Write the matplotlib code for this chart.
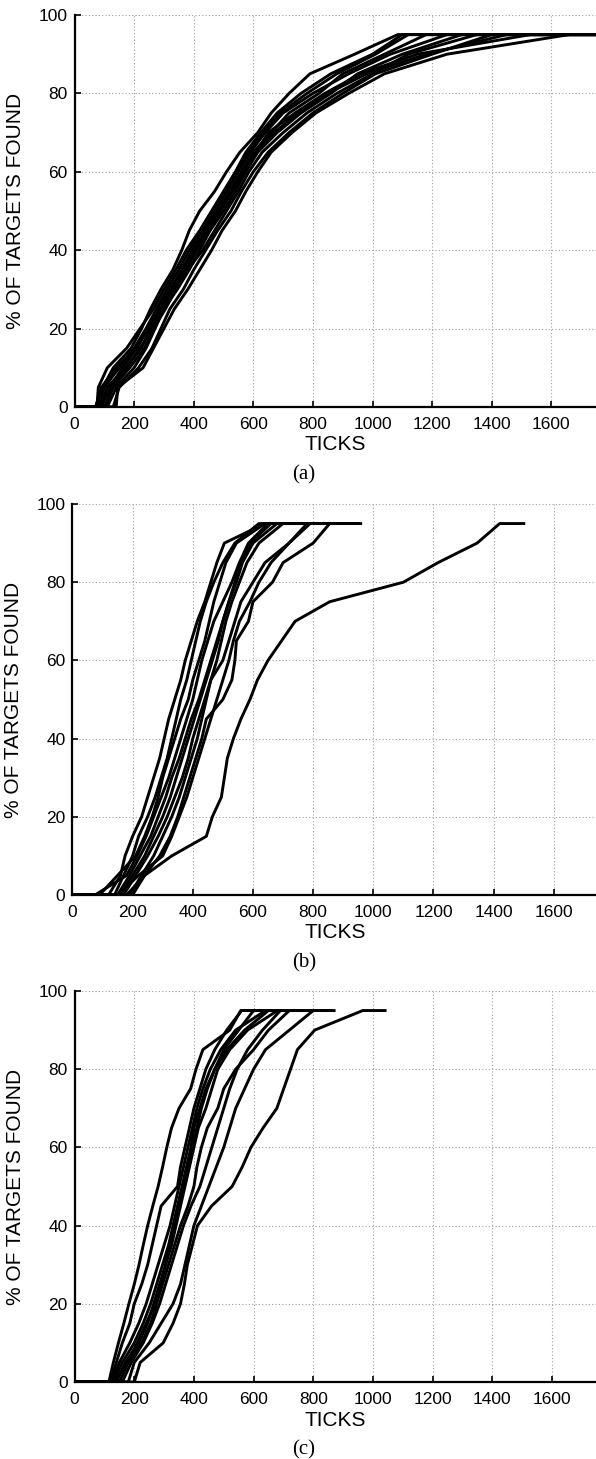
import matplotlib
matplotlib.use("Agg")
import matplotlib.pyplot as plt

# percent levels at which each run finds the next batch of targets
levels = [5, 10, 15, 20, 25, 30, 35, 40, 45, 50, 55, 60, 65, 70, 75, 80, 85, 90, 95]

# per run: tick where it leaves 0, ticks at levels 5..95, tick where the run ends
runs_a = [
    [70, 95, 130, 190, 225, 255, 290, 330, 360, 385, 420, 470, 510, 555, 615, 660, 720, 790, 940, 1085, 1750],
    [75, 80, 110, 175, 220, 265, 300, 340, 375, 420, 460, 500, 540, 575, 625, 680, 760, 860, 1000, 1100, 1750],
    [90, 120, 160, 210, 245, 280, 320, 360, 395, 440, 480, 520, 560, 600, 660, 720, 820, 900, 1040, 1180, 1750],
    [110, 140, 200, 240, 270, 300, 345, 385, 420, 455, 500, 540, 575, 615, 680, 760, 860, 950, 1100, 1300, 1750],
    [130, 150, 215, 260, 290, 320, 365, 400, 440, 480, 525, 560, 600, 650, 720, 800, 900, 1010, 1200, 1400, 1750],
    [85, 110, 170, 225, 255, 290, 330, 375, 410, 450, 490, 530, 570, 610, 650, 740, 840, 960, 1150, 1530, 1750],
    [100, 130, 185, 235, 265, 305, 340, 380, 430, 470, 510, 550, 585, 630, 700, 780, 880, 1000, 1120, 1350, 1750],
    [80, 100, 150, 200, 240, 275, 310, 350, 385, 430, 470, 510, 550, 590, 640, 700, 800, 920, 1060, 1250, 1750],
    [140, 145, 230, 265, 300, 335, 380, 420, 460, 495, 540, 575, 615, 660, 730, 810, 920, 1040, 1250, 1660, 1750],
    [105, 125, 175, 220, 260, 295, 335, 365, 400, 445, 485, 525, 565, 605, 670, 750, 850, 980, 1180, 1450, 1750],
    [72, 90, 140, 205, 250, 285, 325, 370, 405, 440, 475, 505, 545, 585, 635, 690, 780, 880, 1010, 1120, 1750],
]

runs_b = [
    [120, 160, 175, 200, 230, 250, 270, 290, 305, 320, 340, 360, 375, 395, 415, 440, 460, 480, 505, 640, 790],
    [140, 170, 200, 220, 250, 275, 295, 315, 330, 345, 360, 380, 395, 410, 425, 445, 470, 500, 540, 620, 700],
    [75, 180, 215, 245, 270, 295, 320, 340, 360, 380, 400, 415, 430, 450, 470, 500, 530, 555, 585, 650, 760],
    [150, 190, 225, 260, 285, 310, 330, 355, 375, 395, 420, 440, 460, 480, 500, 520, 540, 560, 590, 660, 720],
    [160, 200, 240, 270, 300, 325, 345, 365, 385, 405, 425, 445, 465, 485, 500, 520, 545, 565, 600, 680, 780],
    [170, 210, 250, 285, 315, 340, 365, 385, 400, 420, 440, 460, 480, 495, 510, 530, 555, 580, 620, 700, 760],
    [190, 230, 270, 300, 330, 355, 375, 395, 415, 430, 445, 460, 500, 520, 540, 560, 600, 640, 720, 780, 950],
    [200, 240, 290, 325, 350, 370, 390, 410, 430, 445, 500, 530, 540, 545, 585, 600, 665, 700, 800, 855, 958],
    [150, 220, 300, 330, 355, 380, 400, 420, 440, 460, 480, 500, 520, 535, 555, 590, 620, 660, 720, 790, 880],
    [180, 240, 330, 445, 465, 495, 505, 515, 535, 560, 590, 615, 650, 695, 740, 855, 1100, 1215, 1345, 1420, 1500],
    [90, 150, 210, 240, 265, 285, 300, 320, 340, 360, 385, 400, 420, 440, 455, 470, 490, 510, 545, 640, 740],
]

runs_c = [
    [115, 130, 147, 165, 182, 200, 216, 230, 245, 262, 280, 295, 309, 325, 350, 389, 407, 430, 520, 557, 620],
    [120, 140, 160, 185, 200, 225, 245, 260, 275, 290, 345, 355, 370, 385, 400, 420, 440, 470, 510, 560, 700],
    [125, 150, 185, 215, 240, 260, 280, 300, 320, 335, 350, 365, 380, 395, 410, 430, 455, 490, 540, 640, 700],
    [130, 160, 200, 230, 255, 275, 295, 315, 330, 345, 360, 375, 390, 400, 420, 440, 470, 510, 570, 650, 720],
    [140, 170, 215, 245, 265, 285, 305, 325, 340, 355, 370, 385, 400, 415, 440, 460, 480, 520, 580, 680, 860],
    [150, 180, 225, 255, 275, 295, 315, 335, 355, 380, 400, 410, 425, 445, 480, 500, 540, 600, 650, 720, 820],
    [160, 190, 230, 260, 285, 305, 325, 345, 365, 390, 420, 440, 460, 480, 500, 520, 545, 580, 630, 690, 760],
    [200, 220, 297, 330, 355, 368, 378, 395, 412, 459, 528, 562, 591, 632, 678, 701, 724, 747, 805, 966, 1041],
    [180, 200, 250, 290, 330, 355, 370, 385, 400, 425, 450, 475, 500, 520, 540, 570, 600, 640, 720, 800, 870],
    [135, 175, 210, 240, 270, 290, 305, 320, 335, 350, 365, 380, 395, 410, 425, 445, 470, 500, 550, 600, 680],
]

panels = [runs_a, runs_b, runs_c]
captions = ["(a)", "(b)", "(c)"]
xticks = [0, 200, 400, 600, 800, 1000, 1200, 1400, 1600]
yticks = [0, 20, 40, 60, 80, 100]

W, H = 596, 1459
# axes rectangles in pixels: left, top, width, height
rects = [(74.5, 15, 521.5, 392), (72.4, 504, 526.6, 391), (74.6, 991, 522, 391)]

fig = plt.figure(figsize=(W / 100, H / 100), dpi=100)
sans = "Liberation Sans"

for runs, cap, (l, t, w, h) in zip(panels, captions, rects):
    ax = fig.add_axes([l / W, 1 - (t + h) / H, w / W, h / H])
    for r in runs:
        xs = [0] + r
        ys = [0, 0] + levels + [95]
        ax.plot(xs, ys, color="black", lw=2.1)
    ax.set_xlim(0, 1750)
    ax.set_ylim(0, 100)
    ax.set_xticks(xticks)
    ax.set_yticks(yticks)
    ax.grid(True, color="#a0a0a0", lw=0.8, linestyle=(0, (1, 2)))
    ax.set_axisbelow(True)
    for s in ["top", "right"]:
        ax.spines[s].set_visible(False)
    for s in ["left", "bottom"]:
        ax.spines[s].set_linewidth(1.6)
    ax.tick_params(direction="in", length=4, width=1.2, labelsize=12.5)
    ax.tick_params(axis="x", pad=7)
    ax.tick_params(axis="y", pad=5)
    for lab in ax.get_xticklabels() + ax.get_yticklabels():
        lab.set_fontfamily(sans)
    ax.set_ylabel("% OF TARGETS FOUND", fontsize=15, family=sans, labelpad=10)
    ax.text(0.5, -38 / h, "TICKS", transform=ax.transAxes, ha="center",
            va="center", fontsize=15, family=sans)
    fig.text(0.51, 1 - (t + h + 68) / H, cap, ha="center", va="center",
             fontsize=15, family="Liberation Serif")

fig.savefig("out.png", dpi=100)
